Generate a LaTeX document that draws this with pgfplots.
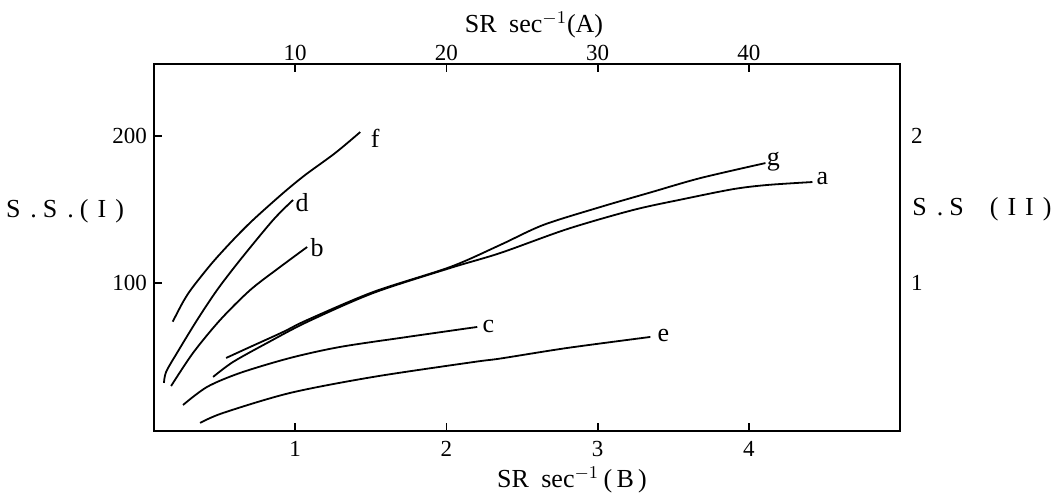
\documentclass[border=0pt]{standalone}
\usepackage{pgfplots}
\pgfplotsset{compat=1.18}
\usepackage{fontspec}
\setmainfont{Liberation Serif}
\begin{document}
\begin{tikzpicture}
\useasboundingbox (-77pt,-32pt) rectangle (453pt,215.5pt);
\begin{axis}[at={(0pt,0pt)},anchor=south west, scale only axis,
  width=373pt, height=183.5pt,
  xmin=0.066, xmax=5.0, ymin=-0.7, ymax=249,
  xtick={1,2,3,4}, ytick={100,200},
  xtick pos=both, ytick pos=left, xticklabel pos=bottom,
  tick align=inside, major tick length=4pt,
  axis line style={line width=1pt},
  tick style={line width=0.9pt,black},
  xticklabel style={yshift=-1.5pt},
  tick label style={font=\fontsize{11.5}{13}\selectfont},
  /pgf/number format/assume math mode=true,
  cycle list={black,solid\\},
  every axis plot/.append style={line width=0.9pt, no markers, smooth},
  clip=false]
% f
\addplot coordinates {(0.190,73.7)(0.258,87.1)(0.318,96.6)(0.450,113.6)(0.589,129.3)(0.721,142.9)(0.920,161.2)(1.066,173.5)(1.264,188.4)(1.430,202.7)};
% d
\addplot coordinates {(0.132,32.0)(0.146,39.5)(0.218,52.4)(0.351,74.8)(0.483,95.2)(0.635,115.6)(0.854,142.9)(0.986,156.5)};
% b
\addplot coordinates {(0.179,29.9)(0.324,52.4)(0.503,74.8)(0.702,95.2)(0.900,110.9)(1.079,124.5)};
% g
\addplot coordinates {(0.543,49.0)(0.702,56.5)(0.920,66.7)(1.079,74.8)(1.516,93.9)(2.025,110.9)(2.356,125.9)(2.641,139.5)(3.018,151.7)(3.349,161.6)(3.680,171.4)(4.110,181.6)};
% a
\addplot coordinates {(0.457,36.1)(0.589,46.3)(0.814,59.2)(1.079,73.5)(1.516,93.2)(2.025,110.2)(2.356,120.4)(2.799,136.7)(3.236,149.7)(3.567,157.1)(3.898,163.9)(4.123,166.7)(4.421,168.7)};
% c
\addplot coordinates {(0.258,17.0)(0.417,29.3)(0.635,38.8)(0.966,49.0)(1.297,56.5)(1.741,63.3)(2.204,70.1)};
% e
\addplot coordinates {(0.371,4.8)(0.523,11.6)(0.966,25.2)(1.516,36.1)(2.177,46.2)(2.356,48.6)(2.799,55.8)(3.349,63.3)};
\begin{scope}[every node/.style={font=\fontsize{13}{15}\selectfont, inner sep=0pt}]
\node at (axis cs:1.529,198.6) {f};
\node at (axis cs:1.046,154.4) {d};
\node at (axis cs:1.145,123.8) {b};
\node at (axis cs:4.163,182.3) {g};
\node at (axis cs:4.487,171.4) {a};
\node at (axis cs:2.277,70.1) {c};
\node at (axis cs:3.435,64.6) {e};
\end{scope}
\end{axis}
\begin{axis}[at={(0pt,0pt)},anchor=south west, scale only axis,
  width=373pt, height=183.5pt,
  xmin=0.066, xmax=5.0, ymin=-0.7, ymax=249,
  axis x line*=top, axis y line*=right,
  axis line style={draw=none},
  xtick={1,2,3,4}, xticklabels={10,20,30,40},
  ytick={100,200}, yticklabels={1,2},
  major tick length=0pt,
  xticklabel style={yshift=-2pt},
  yticklabel style={xshift=2pt},
  tick label style={font=\fontsize{11.5}{13}\selectfont},
  /pgf/number format/assume math mode=true]
\end{axis}
\node[font=\fontsize{13}{15}\selectfont] at (190pt,203pt) {SR\hspace{3pt} sec$^{-1}$(A)};
\node[font=\fontsize{13}{15}\selectfont] at (209pt,-24.5pt) {SR\hspace{3pt} sec$^{-1}$\,(\,B\,)};
\node[font=\fontsize{13}{15}\selectfont] at (-44.5pt,110pt) {S\hspace{5pt}.\hspace{3pt}S\hspace{5pt}.\hspace{3pt}(\hspace{4.5pt}I\hspace{4.5pt})};
\node[font=\fontsize{13}{15}\selectfont] at (414pt,111pt) {S\hspace{5pt}.\hspace{3pt}S\hspace{13pt}(\hspace{4.5pt}I\hspace{4.5pt}I\hspace{4.5pt})};
\end{tikzpicture}
\end{document}
